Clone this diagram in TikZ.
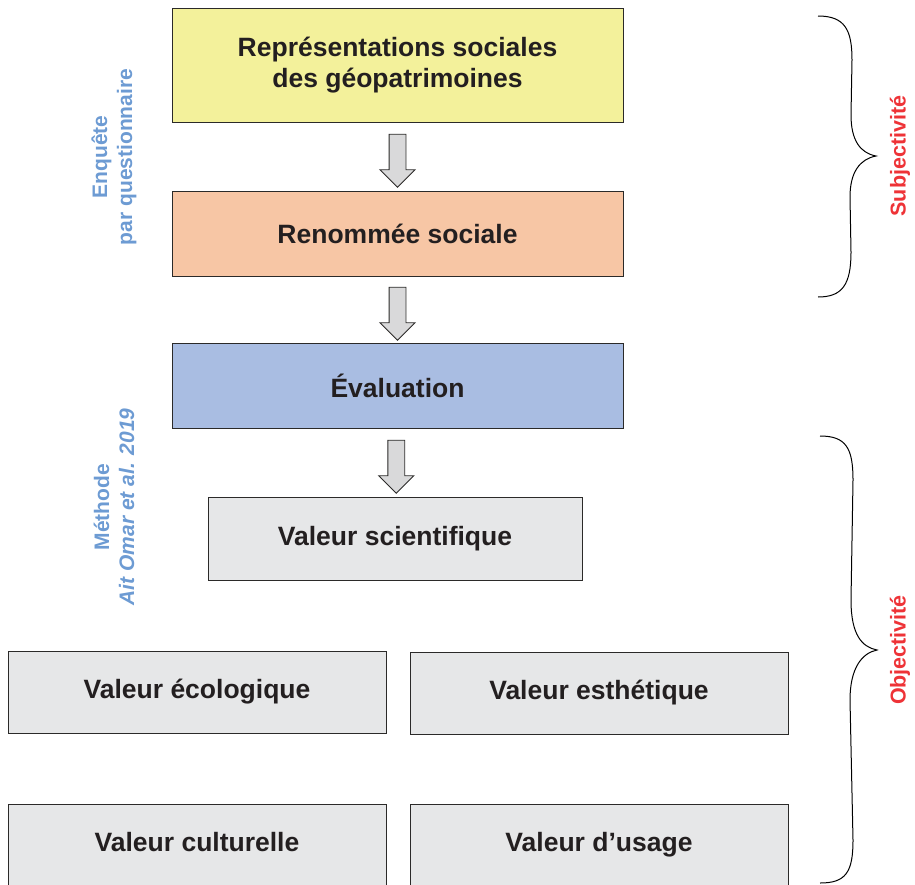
\documentclass[tikz,border=0pt]{standalone}
\usepackage{fontspec}
\setmainfont{Liberation Sans}
\usetikzlibrary{shapes.arrows,calc}

\definecolor{boxline}{HTML}{2B2A29}
\definecolor{textdark}{HTML}{231F20}
\definecolor{repfill}{HTML}{F3F19B}
\definecolor{renfill}{HTML}{F7C6A5}
\definecolor{evalfill}{HTML}{A9BDE2}
\definecolor{valfill}{HTML}{E6E7E8}
\definecolor{arrowfill}{HTML}{D9D9DA}
\definecolor{sideblue}{HTML}{6D9BD3}
\definecolor{sidered}{HTML}{EE3337}

\tikzset{
  box/.style={draw=boxline, line width=1pt, align=center, text=textdark,
    minimum width=451pt, minimum height=85pt,
    font=\bfseries\fontsize{26.5}{31}\selectfont},
  valbox/.style={box, fill=valfill, minimum width=378pt, minimum height=82pt,
    text height=19pt, text depth=5.5pt},
  fatarrow/.style={single arrow, draw=boxline, fill=arrowfill, line width=0.9pt,
    shape border rotate=270, inner sep=8pt, minimum height=53pt,
    single arrow head extend=9pt, single arrow head indent=0pt},
  sidenote/.style={rotate=90, align=center, text=sideblue,
    font=\bfseries\fontsize{21}{25}\selectfont},
  bracelabel/.style={rotate=90, text=sidered,
    font=\bfseries\fontsize{21.5}{25}\selectfont},
  braceline/.style={draw=black, line width=1pt}
}

\begin{document}
\begin{tikzpicture}[x=1pt,y=-1pt]
	\useasboundingbox (0,0) rectangle (915,884);
	\node[box, fill=repfill, minimum height=114pt] (rep) at (397.5,65) {Représentations sociales\\des géopatrimoines};
	\node[box, fill=renfill] (ren) at (397.5,233.5) {Renommée sociale};
	\node[box, fill=evalfill] (eval) at (397.5,385.5) {Évaluation};
	\node[valbox, minimum width=374pt, minimum height=83pt] (sci) at (395,538.5) {Valeur scientifique};
	\node[valbox] (eco) at (197,692) {Valeur écologique};
	\node[valbox] (est) at (599,693) {Valeur esthétique};
	\node[valbox] (cul) at (197,845) {Valeur culturelle};
	\node[valbox] (usa) at (599,845) {Valeur d’usage};

	\node[fatarrow] (a1) at ($(rep.south)!0.5!(ren.north)$) {};
	\node[fatarrow] (a2) at ($(ren.south)!0.5!(eval.north)$) {};
	\node[fatarrow] (a3) at ($(eval.south)!0.5!(sci.north)$) {};

	\node[sidenote] (enq) at (114,157) {Enquête\\par questionnaire};
	\node[sidenote] (meth) at (114,507) {Méthode\\{\itshape Ait Omar et al. 2019}};

	\draw[braceline] (818,16) .. controls (845,16) and (852,30) .. (852,60)
		-- (851,115) .. controls (851,140) and (860,153) .. (876,156)
		.. controls (860,159) and (850,172) .. (850,197)
		-- (851,252) .. controls (851,285) and (842,297) .. (818,297);
	\draw[braceline] (820,436) .. controls (846,436) and (853,448) .. (853,480)
		-- (851,600) .. controls (851,635) and (862,647) .. (877,650)
		.. controls (862,653) and (850,668) .. (850,700)
		-- (853,840) .. controls (853,872) and (846,883) .. (820,883);
	\node[bracelabel] (subj) at (900,156) {Subjectivité};
	\node[bracelabel] (obj) at (900,650) {Objectivité};
\end{tikzpicture}
\end{document}
